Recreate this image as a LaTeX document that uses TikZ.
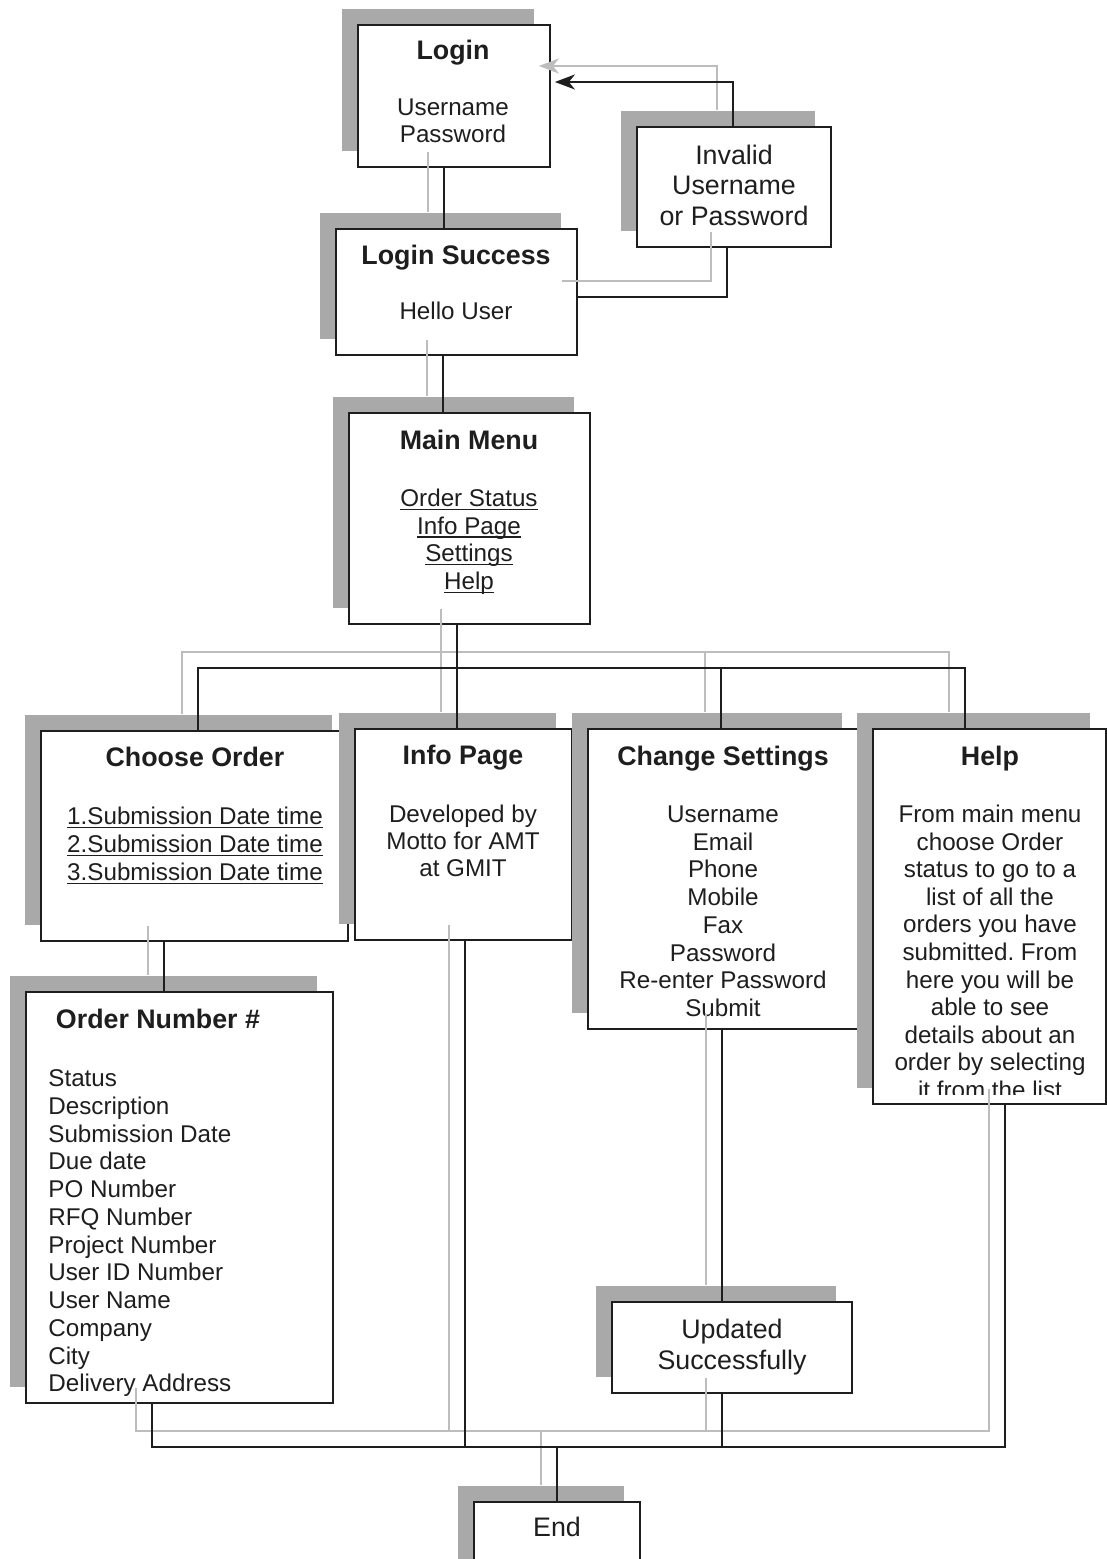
\documentclass[tikz,border=0pt]{standalone}
\usepackage{fontspec}
\setmainfont{Liberation Sans}
\usetikzlibrary{arrows.meta,shadows,fit,calc}
\frenchspacing

\definecolor{ink}{HTML}{1E1E1E}
\definecolor{shade}{HTML}{A9A9A9}
\definecolor{ghost}{HTML}{BDBDBD}

% underline at a fixed depth, independent of descenders
\newsavebox\ulinebox
\newcommand\uln[1]{\sbox\ulinebox{#1}\rlap{\rule[-1.7pt]{\wd\ulinebox}{0.7pt}}\usebox\ulinebox}

\newcommand\bodysize{\fontsize{12.1}{13.9}\selectfont}
\newcommand\titlesize{\fontsize{13.4}{15.4}\selectfont\bfseries}
\newcommand\largesize{\fontsize{13.4}{15.4}\selectfont}

\tikzset{
  screen/.style={draw=ink, line width=0.9pt, fill=white, inner sep=0pt,
    general shadow={fill=shade, shadow xshift=-8pt, shadow yshift=8pt}},
  body/.style={inner sep=0pt, text=ink, font=\bodysize, text height=8.5pt, text depth=0pt},
  title/.style={inner sep=0pt, text=ink, font=\titlesize, text height=9.6pt, text depth=0pt},
  large/.style={inner sep=0pt, text=ink, font=\largesize, text height=9.4pt, text depth=0pt},
  wire/.style={draw=ink, line width=0.9pt},
  echo/.style={draw=ghost, line width=0.8pt, transform canvas={shift={(-8pt,8pt)}}},
  back/.style={-{Stealth[length=10pt,width=7.5pt,inset=3pt]}, shorten >=2pt},
}

% every connector, drawn once as a pale offset echo and once in ink
\newcommand\connectors[1]{%
  \draw[#1] (login.south -| 444,0) -- (lsucc.north -| 444,0);
  \draw[#1,back] (inv.north -| 733,0) |- (login.east |- 0,82);
  \draw[#1] (lsucc.east |- 0,297) -| (inv.south -| 727,0);
  \draw[#1] (lsucc.south -| 443,0) -- (menu.north -| 443,0);
  \draw[#1] (menu.south -| 457,0) -- (info.north -| 457,0);
  \draw[#1] (choose.north -| 198,0) |- (busT) -| (help.north -| 965,0);
  \draw[#1] (busT -| 721,0) -- (change.north -| 721,0);
  \draw[#1] (choose.south -| 164,0) -- (ordnum.north -| 164,0);
  \draw[#1] (ordnum.south -| 152,0) |- (busB) -| (help.south -| 1005,0);
  \draw[#1] (info.south -| 465,0) -- (busB -| 465,0);
  \draw[#1] (change.south -| 722,0) -- (upd.north -| 722,0);
  \draw[#1] (upd.south -| 722,0) -- (busB -| 722,0);
  \draw[#1] (busB) -- (endbox.north);
}

\begin{document}
\begin{tikzpicture}[x=0.5pt, y=-0.5pt]
\fill[white] (0,0) rectangle (1107,1559);
\useasboundingbox (0,0) rectangle (1107,1559);

% screens
\node[screen, fit={(358,25)(550,167)}] (login) {};
\node[screen, fit={(637,127)(831,247)}] (inv) {};
\node[screen, fit={(336,229)(577,355)}] (lsucc) {};
\node[screen, fit={(349,413)(590,624)}] (menu) {};
\node[screen, fit={(41,731)(348,941)}] (choose) {};
\node[screen, fit={(355,729)(572,940)}] (info) {};
\node[screen, fit={(588,729)(858,1029)}] (change) {};
\node[screen, fit={(873,729)(1106,1104)}] (help) {};
\node[screen, fit={(26,992)(333,1403)}] (ordnum) {};
\node[screen, fit={(612,1302)(852,1393)}] (upd) {};
\node[screen, fit={(474,1502)(640,1620)}] (endbox) {};

\coordinate (busT) at (457,668);
\coordinate (busB) at (557,1447);

% texts
\node[title] (login-t) at (453,50) {Login};
\foreach \t [count=\i] in {Username, Password}
  \node[body] (login-\i) at (453,{107+(\i-1)*27}) {\t};

\foreach \t [count=\i] in {Invalid, Username, or Password}
  \node[large] (inv-\i) at (734,{155+(\i-1)*30.5}) {\t};

\node[title] (lsucc-t) at (456,255) {Login Success};
\node[body] (lsucc-1) at (456,311) {Hello User};

\node[title] (menu-t) at (469,440) {Main Menu};
\foreach \t [count=\i] in {Order Status, Info Page, Settings, Help}
  \node[body] (menu-\i) at (469,{498+(\i-1)*27.7}) {\uln{\t}};

\node[title] (choose-t) at (195,757) {Choose Order};
\foreach \t [count=\i] in {1.Submission Date time, 2.Submission Date time, 3.Submission Date time}
  \node[body] (choose-\i) at (195,{816+(\i-1)*28}) {\uln{\t}};

\node[title] (info-t) at (463,755) {Info Page};
\foreach \t [count=\i] in {Developed by, Motto for AMT, at GMIT}
  \node[body] (info-\i) at (463,{814+(\i-1)*27}) {\t};

\node[title] (change-t) at (723,756) {Change Settings};
\foreach \t [count=\i] in {Username, Email, Phone, Mobile, Fax, Password, Re-enter Password, Submit}
  \node[body] (change-\i) at (723,{814+(\i-1)*27.7}) {\t};

\node[title] (help-t) at (990,756) {Help};
\begin{scope}
  \clip (873,729) rectangle (1106,1094);
  \foreach \t [count=\i] in {From main menu, choose Order, status to go to a, list of all the,
      orders you have, submitted. From, here you will be, able to see,
      details about an, order by selecting, it from the list}
    \node[body] (help-\i) at (990,{814+(\i-1)*27.6}) {\t};
\end{scope}

\node[title] (ordnum-t) at (158,1019) {Order Number \#};
\foreach \t [count=\i] in {Status, Description, Submission Date, Due date, PO Number,
    RFQ Number, Project Number, User ID Number, User Name, Company, City, Delivery Address}
  \node[body, anchor=west] (ordnum-\i) at (48,{1078+(\i-1)*27.75}) {\t};

\foreach \t [count=\i] in {Updated, Successfully}
  \node[large] (upd-\i) at (732,{1329+(\i-1)*31}) {\t};

\node[large] (end-t) at (557,1527) {End};

% connectors: echoes first, ink on top
\connectors{echo}
\connectors{wire}
\end{tikzpicture}
\end{document}
